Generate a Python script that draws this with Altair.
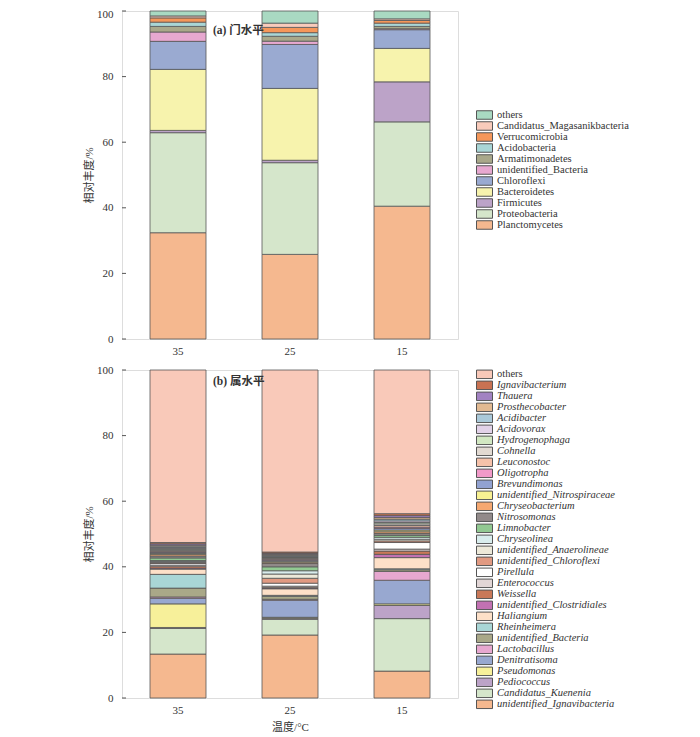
import altair as alt
import pandas as pd

temps = ["35", "25", "15"]

# ---- (a) phylum level, bottom -> top ----
phyla = ["Planctomycetes", "Proteobacteria", "Firmicutes", "Bacteroidetes", "Chloroflexi",
         "unidentified_Bacteria", "Armatimonadetes", "Acidobacteria", "Verrucomicrobia",
         "Candidatus_Magasanikbacteria", "others"]
phyla_colors = ["#f5b88f", "#d5e6cb", "#bca3c8", "#f7f3ad", "#9aaad1", "#e7a8d0",
                "#a9a88a", "#a9d6d6", "#f5975a", "#f9cbbb", "#a9d9c2"]
phy_35 = [32.4, 30.5, 0.7, 18.6, 8.55, 2.85, 1.7, 1.3, 1.3, 0.6, 1.5]
phy_25 = [25.8, 27.95, 0.75, 21.9, 13.4, 1.0, 1.5, 1.1, 1.6, 1.3, 3.7]
phy_15 = [40.5, 25.7, 12.2, 10.2, 5.7, 0.3, 0.7, 1.0, 0.8, 0.5, 2.4]

# ---- (b) genus level, bottom -> top ----
genera = ["unidentified_Ignavibacteria", "Candidatus_Kuenenia", "Pediococcus", "Pseudomonas",
          "Denitratisoma", "Lactobacillus", "unidentified_Bacteria", "Rheinheimera", "Haliangium",
          "unidentified_Clostridiales", "Weissella", "Enterococcus", "Pirellula",
          "unidentified_Chloroflexi", "unidentified_Anaerolineae", "Chryseolinea", "Limnobacter",
          "Nitrosomonas", "Chryseobacterium", "unidentified_Nitrospiraceae", "Brevundimonas",
          "Oligotropha", "Leuconostoc", "Cohnella", "Hydrogenophaga", "Acidovorax", "Acidibacter",
          "Prosthecobacter", "Thauera", "Ignavibacterium", "others"]
genera_colors = ["#f5b88f", "#d5e6cb", "#bca3c8", "#f7f09a", "#98a8d0", "#e7a8d0", "#a9a888",
                 "#a9d6d6", "#fde0c8", "#c271b2", "#c97858", "#e2d6d6", "#ffffff", "#e19a82",
                 "#ede9d9", "#d9eded", "#92c992", "#928a8a", "#f5a871", "#f8f192", "#92a2d1",
                 "#f19ac9", "#f6c2aa", "#e2dad2", "#d2e8c2", "#e2d2e8", "#aac9d9", "#e2ba92",
                 "#a282c2", "#c97252", "#f9c9b9"]
gen_35 = [13.4, 7.8, 0.3, 7.2, 1.7, 0.4, 2.7, 4.2, 1.6, 0.3, 0.6, 0.3, 0.5, 0.3, 0.3, 0.3, 0.8,
          0.6, 0.5, 0.3, 0.3, 0.3, 0.3, 0.3, 0.3, 0.3, 0.4, 0.3, 0.4, 0.4, 52.6]
gen_25 = [19.2, 4.8, 0.3, 0.3, 5.2, 0.3, 0.9, 0.3, 2.0, 0.2, 0.3, 0.3, 0.9, 1.5, 1.3, 1.0, 1.2,
          1.0, 0.4, 0.3, 0.3, 0.3, 0.3, 0.2, 0.2, 0.2, 0.3, 0.3, 0.3, 0.4, 55.5]
gen_15 = [8.2, 16.0, 4.0, 0.5, 7.2, 2.7, 0.5, 0.3, 3.4, 1.0, 1.0, 0.6, 2.0, 0.5, 0.5, 0.6, 0.6,
          0.6, 0.5, 0.5, 0.5, 0.4, 0.5, 0.5, 0.4, 0.5, 0.5, 0.5, 0.6, 0.6, 43.8]

y_ticks = [0, 20, 40, 60, 80, 100]

SERIF = "Liberation Serif, Times New Roman, DejaVu Serif, serif"
CJK = "Liberation Serif, Noto Sans CJK SC, serif"
# wide rectangle legend swatch: 16 x ~8.5 px with symbolSize 256
RECT = "M-1,-0.53H1V0.53H-1Z"


def long_df(names, series):
    rows = []
    for t, vals in zip(temps, series):
        for i, (n, v) in enumerate(zip(names, vals)):
            rows.append({"temp": t, "taxon": n, "value": v, "idx": i})
    return pd.DataFrame(rows)


def panel(names, colors, series, label_text, legend_y, font_size, row_h, italic, show_xtitle,
          text_y, top_offset):
    df = long_df(names, series)
    legend = alt.Legend(
        orient="none", legendX=354, legendY=legend_y, title=None,
        symbolType=RECT, symbolSize=256, symbolStrokeColor="#555555",
        symbolStrokeWidth=1, symbolOpacity=1, labelFont=SERIF, labelFontSize=font_size,
        labelColor="#333333", rowPadding=0, clipHeight=row_h, labelOffset=4, labelLimit=300,
        symbolLimit=60,
        labelFontStyle=(alt.expr("datum.label == 'others' ? 'normal' : 'italic'") if italic else "normal"),
    )
    bars = alt.Chart(df).mark_bar(stroke="#555555", strokeWidth=0.8, opacity=1).encode(
        x=alt.X("temp:N", sort=temps,
                scale=alt.Scale(paddingInner=0.5, paddingOuter=0.25),
                axis=alt.Axis(title="温度/°C" if show_xtitle else None, labelAngle=0, ticks=False,
                              domain=False, labelPadding=6, labelFont=SERIF, labelFontSize=11,
                              labelColor="#333333", titleFont=CJK, titleFontSize=11,
                              titleFontWeight="normal", titleColor="#333333", titlePadding=6)),
        y=alt.Y("value:Q", stack="zero", scale=alt.Scale(domain=[0, 100], nice=False),
                axis=alt.Axis(title="相对丰度/%", values=y_ticks, ticks=False, domain=False,
                              grid=False, labelPadding=9, labelFont=SERIF, labelFontSize=11,
                              labelColor="#333333", titleFont=CJK, titleFontSize=11,
                              titleFontWeight="normal", titleColor="#333333", titlePadding=2,
                              labelOffset=alt.expr(f"datum.value == 100 ? {top_offset} : 0"))),
        color=alt.Color("taxon:N", scale=alt.Scale(domain=names[::-1], range=colors[::-1]),
                        legend=legend),
        order=alt.Order("idx:Q", sort="ascending"),
    )
    ticks = alt.Chart(pd.DataFrame({"v": y_ticks})).mark_rule(color="#555555", strokeWidth=1).encode(
        y=alt.Y("v:Q"), x=alt.value(0), x2=alt.value(4))
    label = alt.Chart(pd.DataFrame({"t": [label_text]})).mark_text(
        align="left", baseline="middle", font=CJK, fontSize=11.5, fontWeight="bold", color="#333333"
    ).encode(text="t:N", x=alt.value(91), y=alt.value(text_y))
    return alt.layer(bars, ticks, label).properties(width=336, height=328)


top = panel(phyla, phyla_colors, [phy_35, phy_25, phy_15], "(a) 门水平", 98.5, 10.5, 11, False, False, 20, 3.5)
bottom = panel(genera, genera_colors, [gen_35, gen_25, gen_15], "(b) 属水平", -1, 10.5, 10.65, True, True, 12, 0)

chart = alt.vconcat(top, bottom, spacing=6).resolve_scale(color="independent").properties(
    padding={"left": 75, "top": 0, "right": 0, "bottom": 0}
).configure_view(stroke="#666666", strokeWidth=1.2).configure(background="white")

chart.save("out.html", embed_options={"renderer": "svg", "actions": False})
